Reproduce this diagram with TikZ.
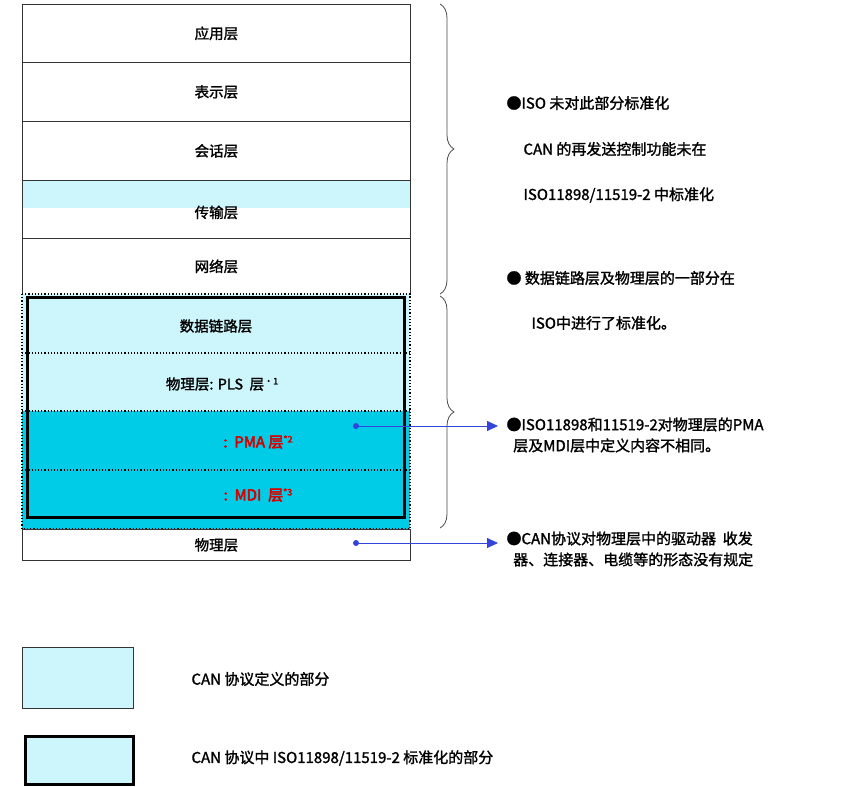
\documentclass[tikz,border=0pt]{standalone}
\usepackage{fontspec}
\setmainfont{Noto Sans CJK SC}[FakeBold=1.5]
\newfontfamily\rbfont{Noto Sans CJK SC}[FakeBold=3.5]
\usetikzlibrary{decorations.pathreplacing,arrows.meta}
\definecolor{lc}{HTML}{CCF5FC}
\definecolor{dc}{HTML}{00CCE8}
\definecolor{ab}{HTML}{3344DD}
\newcommand{\supx}[1]{\raisebox{5pt}{\fontsize{9}{9}\selectfont #1}}
\tikzset{lay/.style={draw=black!80,line width=0.8pt},
 lbl/.style={font=\fontsize{14.5}{16}\selectfont},
 rlbl/.style={font=\rbfont\fontsize{15}{16}\selectfont,text=red!85!black},
 txt/.style={font=\fontsize{15}{21}\selectfont,anchor=west,align=left},
 dotb/.style={draw=black,line width=1.2pt,dotted},
 arr/.style={ab,line width=0.8pt,-{Triangle[length=11pt,width=10pt]}},
 br/.style={decorate,decoration={brace,amplitude=14pt},line width=0.8pt,black!70}}
\begin{document}
\begin{tikzpicture}[x=1pt,y=-1pt]
\useasboundingbox (0,0) rectangle (863,787);
\fill[white] (0,0) rectangle (863,787);
\node[lay,minimum width=388,minimum height=58,anchor=north west,inner sep=0] (app) at (22,4) {};
\node[lbl] at (app) {应用层};
\node[lay,minimum width=388,minimum height=59,anchor=north west,inner sep=0] (pres) at (22,62) {};
\node[lbl] at (pres) {表示层};
\node[lay,minimum width=388,minimum height=59,anchor=north west,inner sep=0] (sess) at (22,121) {};
\node[lbl] at (sess) {会话层};
\fill[lc] (22,180) rectangle (410,208);
\node[lay,minimum width=388,minimum height=58,anchor=north west,inner sep=0] (trans) at (22,180) {};
\node[lbl] at ([yshift=-3]trans.center) {传输层};
\node[lay,minimum width=388,minimum height=56,anchor=north west,inner sep=0] (net) at (22,238) {};
\node[lbl] at (net) {网络层};
\fill[dc] (22,294) rectangle (410,529);
\fill[lc] (22,294) rectangle (410,411);
\draw[dotb] (22,294) rectangle (410,529);
\draw[dotb] (22,353) -- (410,353);
\draw[dotb] (22,411) -- (410,411);
\draw[dotb] (22,470) -- (410,470);
\node[lbl] (dll) at (216,326) {数据链路层};
\node[lbl] (pls) at (222,384) {物理层: PLS\ \ 层\supx{•1}};
\node[rlbl] (pma) at (258,442) {:\ \ PMA 层\supx{*2}};
\node[rlbl] (mdi) at (258,495) {:\ \ MDI\ \ 层\supx{*3}};
\draw[line width=3pt] (27,297) rectangle (404,517);
\node[lay,minimum width=388,minimum height=31,anchor=north west,inner sep=0] (phy) at (22,529) {};
\node[lbl] at (phy) {物理层};
\draw[br] (440,4) -- (440,294);
\draw[br] (440,296) -- (440,528);
\coordinate (d1) at (356,426);
\coordinate (d2) at (356,543);
\fill[ab] (d1) circle (3);
\fill[ab] (d2) circle (3);
\coordinate (e1) at (498,426);
\coordinate (e2) at (498,543);
\draw[arr] (d1) -- (e1);
\draw[arr] (d2) -- (e2);
\node[txt] (t1) at (503,103) {●ISO 未对此部分标准化};
\node[txt] (t2) at (520,149) {CAN 的再发送控制功能未在};
\node[txt] (t3) at (520,195) {ISO11898/11519-2 中标准化};
\node[txt] (t4) at (503,278) {● 数据链路层及物理层的一部分在};
\node[txt] (t5) at (528,323) {ISO中进行了标准化。};
\node[txt] (t6) at (503,435) {●ISO11898和11519-2对物理层的PMA\\\ \ 层及MDI层中定义内容不相同。};
\node[txt] (t7) at (503,549) {●CAN协议对物理层中的驱动器\ \ 收发\\\ \ 器、连接器、电缆等的形态没有规定};
\node[draw=black!80,fill=lc,line width=0.8pt,minimum width=111,minimum height=61,anchor=north west,inner sep=0] (lg1) at (22,647) {};
\node[txt] (lt1) at (188,679) {CAN\ 协议定义的部分};
\node[draw=black,fill=lc,line width=3pt,minimum width=108,minimum height=48,anchor=north west,inner sep=0] (lg2) at (24,735) {};
\node[txt] (lt2) at (188,758) {CAN\ 协议中 ISO11898/11519-2 标准化的部分};
\end{tikzpicture}
\end{document}
